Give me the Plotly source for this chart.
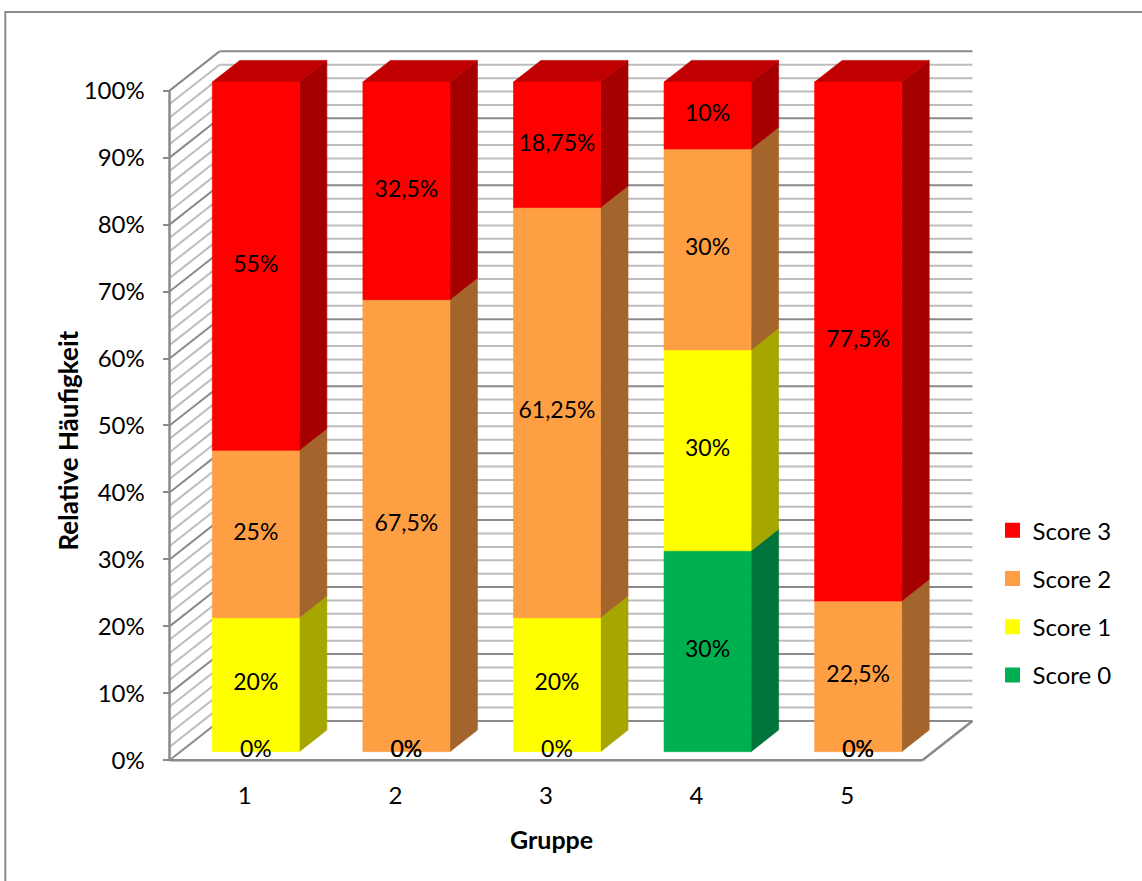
import plotly.graph_objects as go

# --- data -----------------------------------------------------------------
groups = ["1", "2", "3", "4", "5"]
score_names = ["Score 0", "Score 1", "Score 2", "Score 3"]
score0 = [0, 0, 0, 30, 0]
score1 = [20, 0, 20, 30, 0]
score2 = [25, 67.5, 61.25, 30, 22.5]
score3 = [55, 32.5, 18.75, 10, 77.5]
y_ticks = [0, 10, 20, 30, 40, 50, 60, 70, 80, 90, 100]

series = [score0, score1, score2, score3]

# face colours per score: front, right side, top
front_col = ["#00B050", "#FFFF00", "#FF9F43", "#FF0000"]
side_col = ["#00743A", "#A6A600", "#A3652B", "#A50000"]
top_col = ["#008A44", "#C8C800", "#C47A35", "#C00000"]

# --- oblique 3D geometry (data units) ----------------------------------------
DX, DY = 0.3324, 5.87          # depth vector from front plane to back wall
F0, F1 = 0.22, 0.77            # bar front / back as a fraction of the depth
BAR_W = 0.578                  # bar width in category units
N = len(groups)

# pixel layout of the plotting frame
W, H = 1142, 881
PX_CAT, PX_PCT = 150.4, 6.693
X0_PX, Y0_PX = 170.0, 760.0
XMIN, XMAX = -0.03, N + DX + 0.03
YMIN, YMAX = -0.4, 100 + DY + 0.5
ML = X0_PX + XMIN * PX_CAT
PW = (XMAX - XMIN) * PX_CAT
MR = W - ML - PW
BOT = Y0_PX - YMIN * PX_PCT
PH = (YMAX - YMIN) * PX_PCT
MT = BOT - PH
MB = H - BOT


def paper_x(px):
    return (px - ML) / PW


def paper_y(py):
    return (BOT - py) / PH


def fmt(v):
    return f"{v:g}".replace(".", ",") + "%"


GRID_MAJOR = "#8A8A8A"
GRID_MINOR = "#BDBDBD"

fig = go.Figure()


def add_lines(segs, color, width):
    xs, ys = [], []
    for (xa, ya), (xb, yb) in segs:
        xs += [xa, xb, None]
        ys += [ya, yb, None]
    fig.add_trace(go.Scatter(x=xs, y=ys, mode="lines", showlegend=False,
                             hoverinfo="skip",
                             line=dict(color=color, width=width)))


# back wall gridlines and side wall hatching (every 2 %, major every 10 %)
minor, major = [], []
for v in range(0, 101, 2):
    back = ((DX, v + DY), (N + DX, v + DY))
    side = ((0, v), (DX, v + DY))
    target = major if v % 10 == 0 else minor
    target += [back, side]
add_lines(minor, GRID_MINOR, 2)
add_lines(major, GRID_MAJOR, 2)

# floor outline and the front value axis
floor = [((0, 0), (N, 0)), ((N, 0), (N + DX, DY)), ((0, 0), (0, 100))]
add_lines(floor, GRID_MAJOR, 2.5)


def poly(pts):
    xs = [p[0] for p in pts] + [pts[0][0], None]
    ys = [p[1] for p in pts] + [pts[0][1], None]
    return xs, ys


# stacked 3D bars, bottom series first so upper blocks cover lower tops
base = [0.0] * N
label_x, label_y, label_t = [], [], []
for s, vals in enumerate(series):
    fx, fy, sx, sy, tx, ty = [], [], [], [], [], []
    for i, v in enumerate(vals):
        y0, y1 = base[i], base[i] + v
        left = i + 0.5 - BAR_W / 2
        right = i + 0.5 + BAR_W / 2
        ox0, oy0 = F0 * DX, F0 * DY
        ox1, oy1 = F1 * DX, F1 * DY
        label_x.append(i + 0.5 + ox0)
        label_y.append((y0 + y1) / 2 + oy0)
        label_t.append(fmt(v))
        if v > 0:
            a, b = poly([(left + ox0, y0 + oy0), (right + ox0, y0 + oy0),
                         (right + ox0, y1 + oy0), (left + ox0, y1 + oy0)])
            fx += a; fy += b
            a, b = poly([(right + ox0, y0 + oy0), (right + ox1, y0 + oy1),
                         (right + ox1, y1 + oy1), (right + ox0, y1 + oy0)])
            sx += a; sy += b
            a, b = poly([(left + ox0, y1 + oy0), (right + ox0, y1 + oy0),
                         (right + ox1, y1 + oy1), (left + ox1, y1 + oy1)])
            tx += a; ty += b
        base[i] = y1
    for xs, ys, col in ((sx, sy, side_col[s]), (tx, ty, top_col[s]),
                        (fx, fy, front_col[s])):
        fig.add_trace(go.Scatter(x=xs, y=ys, mode="lines", fill="toself",
                                 fillcolor=col, showlegend=False,
                                 hoverinfo="skip",
                                 line=dict(color=col, width=0.6)))

# data labels on the front faces
fig.add_trace(go.Scatter(x=label_x, y=label_y, text=label_t, mode="text",
                         textposition="middle center", showlegend=False,
                         hoverinfo="skip", cliponaxis=False,
                         textfont=dict(family="Lato", size=23, color="#000000")))

# legend entries (Score 3 listed first)
for s in reversed(range(len(series))):
    fig.add_trace(go.Scatter(x=[None], y=[None], mode="markers",
                             name=score_names[s], legendgroup=score_names[s],
                             marker=dict(symbol="square", size=15,
                                         color=front_col[s], line=dict(width=0))))

fig.update_layout(
    width=W, height=H,
    margin=dict(l=ML, r=MR, t=MT, b=MB, autoexpand=False),
    paper_bgcolor="white", plot_bgcolor="white",
    font=dict(family="Lato", size=24, color="#000000"),
    showlegend=True,
    legend=dict(x=paper_x(992), y=paper_y(508), xanchor="left", yanchor="top",
                tracegroupgap=14, font=dict(size=24),
                bgcolor="rgba(0,0,0,0)"),
    xaxis=dict(range=[XMIN, XMAX], showgrid=False, zeroline=False,
               showline=False, anchor="free", position=paper_y(Y0_PX),
               tickvals=[i + 0.5 for i in range(N)], ticktext=groups,
               ticks="", ticklabelstandoff=19, fixedrange=True),
    yaxis=dict(range=[YMIN, YMAX], showgrid=False, zeroline=False,
               showline=False, anchor="free", position=paper_x(X0_PX),
               tickvals=y_ticks, ticktext=[f"{t}%" for t in y_ticks],
               ticks="outside", ticklen=7, tickwidth=2, tickcolor=GRID_MAJOR,
               ticklabelstandoff=13, fixedrange=True),
    annotations=[
        dict(text="<b>Relative Häufigkeit</b>", xref="paper", yref="paper",
             x=paper_x(69), y=paper_y(440), textangle=-90, showarrow=False,
             xanchor="center", yanchor="middle", font=dict(size=26)),
        dict(text="<b>Gruppe</b>", xref="paper", yref="paper",
             x=paper_x(552), y=paper_y(839), showarrow=False,
             xanchor="center", yanchor="middle", font=dict(size=25)),
    ],
    shapes=[dict(type="rect", xref="paper", yref="paper",
                 x0=paper_x(6), y0=paper_y(H + 20), x1=paper_x(W + 20),
                 y1=paper_y(12), line=dict(color="#8C8C8C", width=2),
                 fillcolor="rgba(0,0,0,0)", layer="below")],
)

fig.write_html("out.html")
